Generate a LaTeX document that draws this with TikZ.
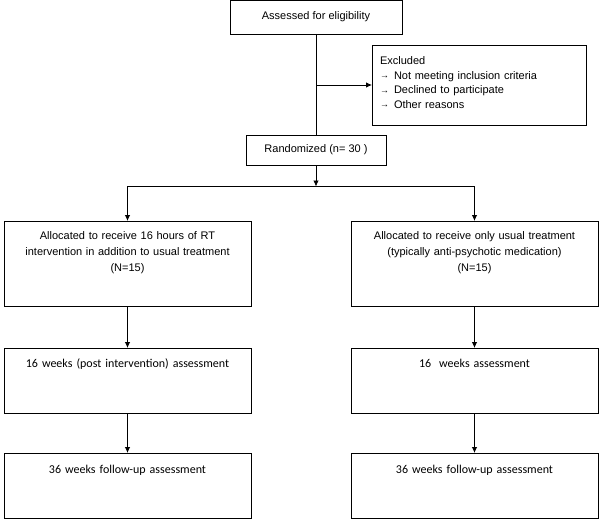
\documentclass[tikz,border=0pt]{standalone}
\usepackage{fontspec}
\setmainfont{Liberation Sans}
\newfontfamily\califont{Carlito}
\usetikzlibrary{arrows.meta, positioning}
\newcommand{\exarrow}{\makebox[14pt][l]{\fontsize{9}{9}\selectfont\raisebox{0.5pt}{→}}}
\tikzset {
  box/.style = {draw, line width=0.8pt, rectangle, inner sep=0pt, outer sep=0pt, font=\fontsize{11}{16}\selectfont},
  allocbox/.style = {box, text width=247pt, align=center, text height=18pt, text depth=67pt},
  weekbox/.style = {box, text width=247pt, align=center, font=\califont\fontsize{12}{14}\selectfont},
  exclbox/.style = {box, inner xsep=8pt, text width=198pt, align=left, text height=20pt, text depth=60pt, font=\fontsize{11}{14.4}\selectfont},
  line/.style = {->, line width=0.8pt, color=black, >={Latex[length=6pt, width=5.5pt]}},
  plain/.style = {line width=0.8pt, color=black},
}

\begin{document}
\begin{tikzpicture}
    \useasboundingbox (0,0) rectangle (600pt,-519pt);

    \node[box, minimum width=172pt, minimum height=34pt] (assess) at (316pt,-17pt) {Assessed for eligibility};
    \node[exclbox] (excl) at (479pt,-85pt) {Excluded\\\exarrow Not meeting inclusion criteria\\\exarrow Declined to participate\\\exarrow Other reasons};
    \node[box, minimum width=140pt, minimum height=30pt, below=101pt of assess] (rand) {Randomized (n= 30 )};
    \coordinate[below=21.5pt of rand] (split);

    \node[allocbox] (alloc1) at (127.5pt,-263.5pt) {Allocated to receive 16 hours of RT\\intervention in addition to usual treatment\\(N=15)};
    \node[allocbox, right=100pt of alloc1] (alloc2) {Allocated to receive only usual treatment\\(typically anti-psychotic medication)\\(N=15)};
    \node[weekbox, text height=19.5pt, text depth=45.5pt, below=42pt of alloc1] (post1) {16 weeks (post intervention) assessment};
    \node[weekbox, text height=19.5pt, text depth=45.5pt, below=42pt of alloc2] (post2) {16\ \ weeks assessment};
    \node[weekbox, text height=20.5pt, text depth=44.5pt, below=40pt of post1] (fu1) {36 weeks follow-up assessment};
    \node[weekbox, text height=20.5pt, text depth=44.5pt, below=40pt of post2] (fu2) {36 weeks follow-up assessment};

    \draw[plain] (assess) -- (rand);
    \draw[line] (assess.south |- excl.west) -- (excl.west);
    \draw[line] (rand) -- (split);
    \draw[line] (split) -| (alloc1);
    \draw[line] (split) -| (alloc2);
    \draw[line] (alloc1) -- (post1);
    \draw[line] (alloc2) -- (post2);
    \draw[line] (post1) -- (fu1);
    \draw[line] (post2) -- (fu2);

\end{tikzpicture}
\end{document}
